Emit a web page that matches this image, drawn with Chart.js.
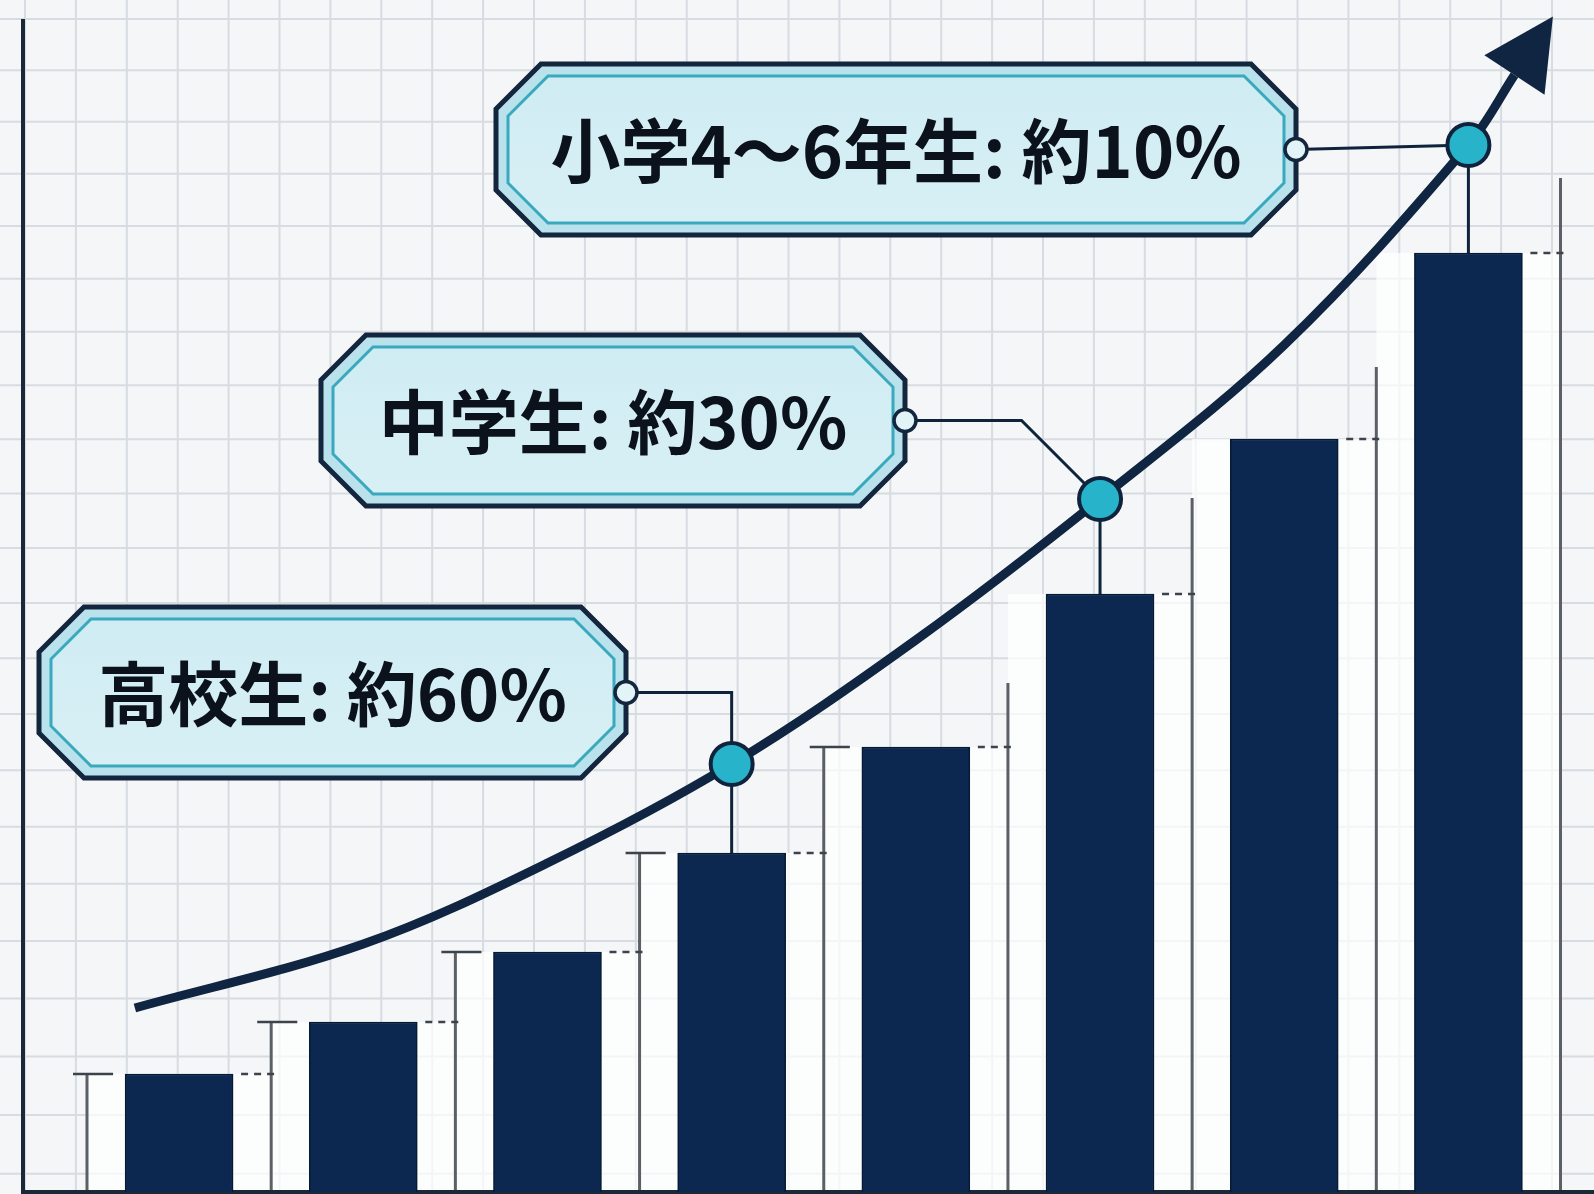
<!DOCTYPE html>
<html>
<head>
<meta charset="utf-8">
<script src="https://cdn.jsdelivr.net/npm/chart.js@4.4.1/dist/chart.umd.min.js"></script>
<style>
  html, body { margin: 0; padding: 0; background: #f4f6f7; }
  #wrap { width: 1594px; height: 1194px; position: relative; }
  canvas { display: block; }
</style>
</head>
<body>
<div id="wrap"><canvas id="c" width="1594" height="1194"></canvas></div>
<script>
// ---- data ----
const categories = ['1', '2', '3', '4', '5', '6', '7', '8'];
const barValues = [11.8, 17.0, 24.0, 33.9, 44.5, 59.8, 75.3, 93.9];
const curveX = [-0.24, 1, 2, 3, 4, 5, 6, 7, 7.25];
const curveValues = [18.4, 24.8, 32.9, 42.8, 55.2, 69.3, 84.7, 104.7, 111.7];
const guideValues = [11.7, 17.0, 24.0, 33.9, 44.4, 50.9, 69.4, 82.5, 101.4];
const calloutLabels = ['高校生: 約60%', '中学生: 約30%', '小学4～6年生: 約10%'];
const calloutIndex = [3, 5, 7];

// ---- styles ----
const NAVY = '#0c2850';
const LINE = '#0f2542';
const TEAL = '#27b3c9';
const FONT = '"Noto Sans CJK JP", "Noto Sans", sans-serif';

const markerRadius = curveX.map(x => calloutIndex.includes(x) ? 21 : 0);

// callout box layout (pixels) and connector style
const calloutBoxes = [
  { l: 39,  r: 626,  t: 607, b: 778, route: 'vertical' },
  { l: 321, r: 905,  t: 335, b: 506, route: 'diagonal' },
  { l: 496, r: 1296, t: 64,  b: 235, route: 'straight' }
];

function octagon(ctx, l, t, r, b, c) {
  ctx.beginPath();
  ctx.moveTo(l + c, t);
  ctx.lineTo(r - c, t);
  ctx.lineTo(r, t + c);
  ctx.lineTo(r, b - c);
  ctx.lineTo(r - c, b);
  ctx.lineTo(l + c, b);
  ctx.lineTo(l, b - c);
  ctx.lineTo(l, t + c);
  ctx.closePath();
}

const decor = {
  id: 'decor',
  beforeDraw(chart) {
    const ctx = chart.ctx;
    const W = chart.width, H = chart.height;
    ctx.save();
    ctx.fillStyle = '#f4f6f7';
    ctx.fillRect(0, 0, W, H);
    ctx.strokeStyle = '#d6dce1';
    ctx.lineWidth = 2;
    for (let x = 25; x < W; x += 50.9) {
      ctx.beginPath(); ctx.moveTo(x, 0); ctx.lineTo(x, H); ctx.stroke();
    }
    for (let k = 0; ; k++) {
      const y = 19 + 51 * k + 0.19 * k * k;
      if (y > H) break;
      ctx.beginPath(); ctx.moveTo(0, y); ctx.lineTo(W, y); ctx.stroke();
    }
    ctx.restore();
  },
  beforeDatasetsDraw(chart) {
    const ctx = chart.ctx;
    const xs = chart.scales.x, ys = chart.scales.y;
    const area = chart.chartArea;
    const slot = (area.right - area.left) / categories.length;
    const base = ys.getPixelForValue(0);
    const barMeta = chart.getDatasetMeta(0);
    ctx.save();
    // white panels behind each bar slot
    ctx.fillStyle = 'rgba(255,255,255,0.72)';
    barValues.forEach((v, i) => {
      const bl = xs.getPixelForValue(i) - slot / 2;
      const top = ys.getPixelForValue(v);
      ctx.fillRect(bl, top, slot, base - top);
    });
    // guide lines at slot boundaries
    ctx.strokeStyle = '#5b6067';
    ctx.lineWidth = 3;
    guideValues.forEach((v, i) => {
      const bx = xs.getPixelForValue(i) - slot / 2;
      ctx.beginPath();
      ctx.moveTo(bx, base);
      ctx.lineTo(bx, ys.getPixelForValue(v));
      ctx.stroke();
    });
    // top ticks
    ctx.lineWidth = 2.5;
    ctx.strokeStyle = '#3d434b';
    barValues.forEach((v, i) => {
      const el = barMeta.data[i];
      const half = el.width / 2;
      const cx = el.x;
      const y = ys.getPixelForValue(v);
      const bl = xs.getPixelForValue(i) - slot / 2, br = bl + slot;
      if (i < 5) {
        ctx.setLineDash([]);
        ctx.beginPath(); ctx.moveTo(bl - 14, y); ctx.lineTo(cx - half - 12, y); ctx.stroke();
      }
      ctx.setLineDash([7, 6]);
      ctx.beginPath(); ctx.moveTo(cx + half + 8, y); ctx.lineTo(br + 6, y); ctx.stroke();
    });
    ctx.setLineDash([]);
    // axes
    ctx.strokeStyle = '#1b2838';
    ctx.lineWidth = 4;
    ctx.beginPath(); ctx.moveTo(23, 19); ctx.lineTo(23, chart.height); ctx.stroke();
    ctx.beginPath(); ctx.moveTo(21, base); ctx.lineTo(chart.width, base); ctx.stroke();
    // stems + connectors
    const lineMeta = chart.getDatasetMeta(1);
    ctx.strokeStyle = '#10233d';
    ctx.lineWidth = 3;
    calloutIndex.forEach((bi, n) => {
      const p = lineMeta.data[curveX.indexOf(bi)];
      const barTop = ys.getPixelForValue(barValues[bi]);
      ctx.beginPath(); ctx.moveTo(p.x, p.y); ctx.lineTo(p.x, barTop); ctx.stroke();
      const bx = calloutBoxes[n];
      const cy = (bx.t + bx.b) / 2;
      ctx.beginPath();
      ctx.moveTo(bx.r, cy);
      if (bx.route === 'vertical') {
        ctx.lineTo(p.x, cy); ctx.lineTo(p.x, p.y);
      } else if (bx.route === 'diagonal') {
        const ex = p.x - (p.y - cy);
        ctx.lineTo(ex, cy); ctx.lineTo(p.x, p.y);
      } else {
        ctx.lineTo(p.x, p.y);
      }
      ctx.stroke();
    });
    ctx.restore();
  },
  afterDatasetsDraw(chart) {
    const ctx = chart.ctx;
    const lineMeta = chart.getDatasetMeta(1);
    const pts = lineMeta.data;
    const a = pts[pts.length - 2], b = pts[pts.length - 1];
    let dx = b.x - a.x, dy = b.y - a.y;
    const len = Math.hypot(dx, dy); dx /= len; dy /= len;
    const L = 70, Hh = 36;
    ctx.save();
    ctx.fillStyle = LINE;
    ctx.beginPath();
    ctx.moveTo(b.x + dx * L, b.y + dy * L);
    ctx.lineTo(b.x - dy * Hh, b.y + dx * Hh);
    ctx.lineTo(b.x + dy * Hh, b.y - dx * Hh);
    ctx.closePath();
    ctx.fill();
    // callouts
    calloutLabels.forEach((txt, n) => {
      const bx = calloutBoxes[n];
      const c = 45;
      octagon(ctx, bx.l, bx.t, bx.r, bx.b, c);
      ctx.fillStyle = '#b9e2ec';
      ctx.fill();
      ctx.lineWidth = 5;
      ctx.strokeStyle = '#13263d';
      ctx.stroke();
      octagon(ctx, bx.l + 12, bx.t + 12, bx.r - 12, bx.b - 12, c - 5);
      const g = ctx.createLinearGradient(0, bx.t, 0, bx.b);
      g.addColorStop(0, '#cfecf3');
      g.addColorStop(1, '#d8f0f5');
      ctx.fillStyle = g;
      ctx.fill();
      ctx.lineWidth = 3;
      ctx.strokeStyle = '#3aa8bd';
      ctx.stroke();
      // text
      ctx.fillStyle = '#0b121b';
      ctx.font = 'bold 70px ' + FONT;
      ctx.textAlign = 'center';
      ctx.textBaseline = 'middle';
      ctx.fillText(txt, (bx.l + bx.r) / 2, (bx.t + bx.b) / 2 + 2);
      // connector dot
      const cy = (bx.t + bx.b) / 2;
      ctx.beginPath();
      ctx.arc(bx.r, cy, 11, 0, Math.PI * 2);
      ctx.fillStyle = '#e2f4f8';
      ctx.fill();
      ctx.lineWidth = 3.5;
      ctx.strokeStyle = '#13263d';
      ctx.stroke();
    });
    ctx.restore();
  }
};

new Chart(document.getElementById('c'), {
  type: 'bar',
  data: {
    labels: categories,
    datasets: [
      {
        type: 'bar',
        xAxisID: 'x',
        yAxisID: 'y',
        data: barValues,
        backgroundColor: NAVY,
        borderColor: '#071a33',
        borderWidth: 1.5,
        barThickness: 108,
        grouped: false,
        order: 2
      },
      {
        type: 'line',
        xAxisID: 'x2',
        yAxisID: 'y',
        data: curveX.map((x, k) => ({ x: x, y: curveValues[k] })),
        borderColor: LINE,
        borderWidth: 9,
        tension: 0.35,
        fill: false,
        pointRadius: markerRadius,
        pointHoverRadius: markerRadius,
        pointBackgroundColor: TEAL,
        pointBorderColor: '#10233d',
        pointBorderWidth: 4,
        order: 1
      }
    ]
  },
  options: {
    responsive: false,
    animation: false,
    events: [],
    layout: { padding: { left: 87, right: 33.5, top: 0, bottom: 2 } },
    plugins: { legend: { display: false }, tooltip: { enabled: false } },
    scales: {
      x: { type: 'category', display: false, offset: true },
      x2: { type: 'linear', display: false, offset: false, min: -0.5, max: 7.5, grid: { offset: false } },
      y: { display: false, min: 0, max: 119.2 }
    }
  },
  plugins: [decor]
});
</script>
</body>
</html>
